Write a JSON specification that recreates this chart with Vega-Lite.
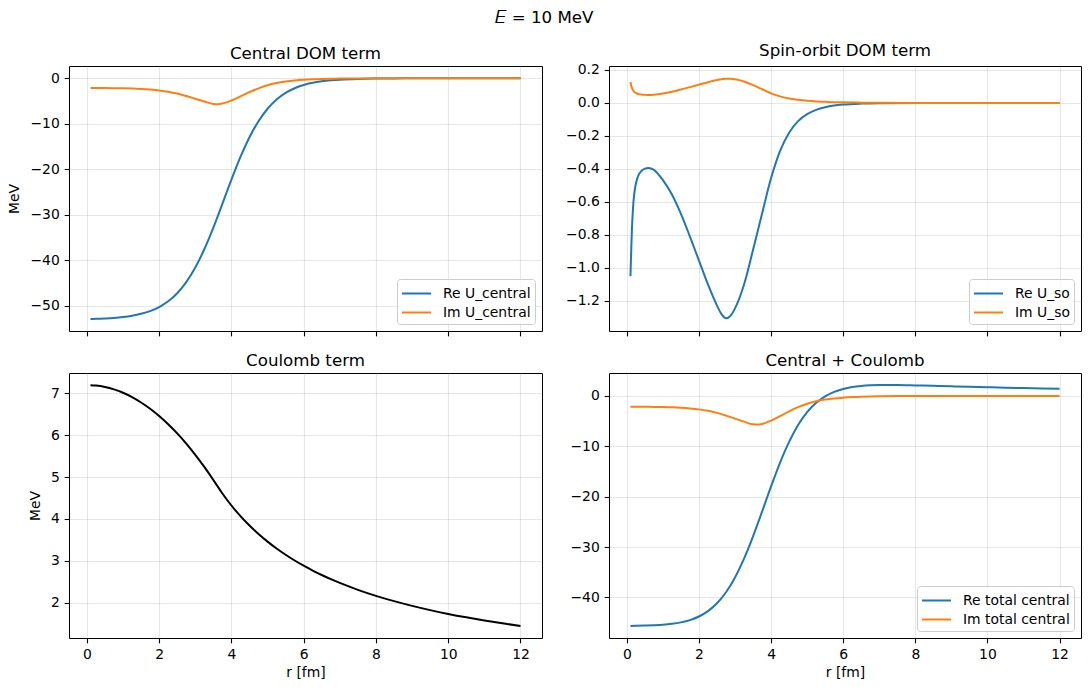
{
  "$schema": "https://vega.github.io/schema/vega-lite/v6.json",
  "padding": {"left": 7, "top": 10, "right": 8, "bottom": 8},
  "title": {"text": "𝐸 = 10 MeV", "anchor": "middle", "fontSize": 16.67, "offset": 16},
  "datasets": {
    "pot": [
      {"r": 0.1, "Re U_central": -52.86, "Im U_central": -2.13, "Coulomb": 7.198, "Re total central": -45.66, "Im total central": -2.13},
      {"r": 0.25, "Re U_central": -52.83, "Im U_central": -2.14, "Coulomb": 7.188, "Re total central": -45.64, "Im total central": -2.14},
      {"r": 0.5, "Re U_central": -52.74, "Im U_central": -2.15, "Coulomb": 7.154, "Re total central": -45.59, "Im total central": -2.15},
      {"r": 0.75, "Re U_central": -52.62, "Im U_central": -2.17, "Coulomb": 7.096, "Re total central": -45.52, "Im total central": -2.17},
      {"r": 1.0, "Re U_central": -52.43, "Im U_central": -2.2, "Coulomb": 7.015, "Re total central": -45.42, "Im total central": -2.2},
      {"r": 1.25, "Re U_central": -52.15, "Im U_central": -2.25, "Coulomb": 6.911, "Re total central": -45.24, "Im total central": -2.25},
      {"r": 1.5, "Re U_central": -51.73, "Im U_central": -2.34, "Coulomb": 6.783, "Re total central": -44.95, "Im total central": -2.34},
      {"r": 1.75, "Re U_central": -51.13, "Im U_central": -2.47, "Coulomb": 6.633, "Re total central": -44.5, "Im total central": -2.47},
      {"r": 2.0, "Re U_central": -50.24, "Im U_central": -2.66, "Coulomb": 6.459, "Re total central": -43.78, "Im total central": -2.66},
      {"r": 2.25, "Re U_central": -48.98, "Im U_central": -2.95, "Coulomb": 6.263, "Re total central": -42.72, "Im total central": -2.95},
      {"r": 2.5, "Re U_central": -47.2, "Im U_central": -3.36, "Coulomb": 6.043, "Re total central": -41.16, "Im total central": -3.36},
      {"r": 2.75, "Re U_central": -44.77, "Im U_central": -3.9, "Coulomb": 5.8, "Re total central": -38.97, "Im total central": -3.9},
      {"r": 3.0, "Re U_central": -41.56, "Im U_central": -4.5, "Coulomb": 5.533, "Re total central": -36.03, "Im total central": -4.5},
      {"r": 3.25, "Re U_central": -37.54, "Im U_central": -5.1, "Coulomb": 5.244, "Re total central": -32.3, "Im total central": -5.1},
      {"r": 3.5, "Re U_central": -32.79, "Im U_central": -5.63, "Coulomb": 4.931, "Re total central": -27.86, "Im total central": -5.63},
      {"r": 3.625, "Re U_central": -30.22, "Im U_central": -5.68, "Coulomb": 4.767, "Re total central": -25.45, "Im total central": -5.68},
      {"r": 3.75, "Re U_central": -27.57, "Im U_central": -5.55, "Coulomb": 4.608, "Re total central": -22.96, "Im total central": -5.55},
      {"r": 4.0, "Re U_central": -22.26, "Im U_central": -4.88, "Coulomb": 4.32, "Re total central": -17.94, "Im total central": -4.88},
      {"r": 4.25, "Re U_central": -17.28, "Im U_central": -3.98, "Coulomb": 4.066, "Re total central": -13.21, "Im total central": -3.98},
      {"r": 4.5, "Re U_central": -12.95, "Im U_central": -3.05, "Coulomb": 3.84, "Re total central": -9.11, "Im total central": -3.05},
      {"r": 4.75, "Re U_central": -9.42, "Im U_central": -2.22, "Coulomb": 3.638, "Re total central": -5.78, "Im total central": -2.22},
      {"r": 5.0, "Re U_central": -6.69, "Im U_central": -1.53, "Coulomb": 3.456, "Re total central": -3.23, "Im total central": -1.53},
      {"r": 5.25, "Re U_central": -4.66, "Im U_central": -1.05, "Coulomb": 3.291, "Re total central": -1.37, "Im total central": -1.05},
      {"r": 5.5, "Re U_central": -3.21, "Im U_central": -0.72, "Coulomb": 3.142, "Re total central": -0.07, "Im total central": -0.72},
      {"r": 5.75, "Re U_central": -2.19, "Im U_central": -0.49, "Coulomb": 3.005, "Re total central": 0.82, "Im total central": -0.49},
      {"r": 6.0, "Re U_central": -1.48, "Im U_central": -0.33, "Coulomb": 2.88, "Re total central": 1.4, "Im total central": -0.33},
      {"r": 6.25, "Re U_central": -1.0, "Im U_central": -0.22, "Coulomb": 2.765, "Re total central": 1.77, "Im total central": -0.22},
      {"r": 6.5, "Re U_central": -0.672, "Im U_central": -0.15, "Coulomb": 2.658, "Re total central": 1.99, "Im total central": -0.15},
      {"r": 6.75, "Re U_central": -0.451, "Im U_central": -0.1, "Coulomb": 2.56, "Re total central": 2.11, "Im total central": -0.1},
      {"r": 7.0, "Re U_central": -0.302, "Im U_central": -0.07, "Coulomb": 2.469, "Re total central": 2.17, "Im total central": -0.07},
      {"r": 7.5, "Re U_central": -0.135, "Im U_central": -0.03, "Coulomb": 2.304, "Re total central": 2.17, "Im total central": -0.03},
      {"r": 8.0, "Re U_central": -0.061, "Im U_central": -0.014, "Coulomb": 2.16, "Re total central": 2.1, "Im total central": -0.014},
      {"r": 8.5, "Re U_central": -0.027, "Im U_central": -0.006, "Coulomb": 2.033, "Re total central": 2.01, "Im total central": -0.006},
      {"r": 9.0, "Re U_central": -0.012, "Im U_central": -0.003, "Coulomb": 1.92, "Re total central": 1.91, "Im total central": -0.003},
      {"r": 9.5, "Re U_central": -0.005, "Im U_central": -0.001, "Coulomb": 1.819, "Re total central": 1.81, "Im total central": -0.001},
      {"r": 10.0, "Re U_central": -0.002, "Im U_central": 0, "Coulomb": 1.728, "Re total central": 1.73, "Im total central": 0},
      {"r": 10.5, "Re U_central": -0.001, "Im U_central": 0, "Coulomb": 1.646, "Re total central": 1.645, "Im total central": 0},
      {"r": 11.0, "Re U_central": 0, "Im U_central": 0, "Coulomb": 1.571, "Re total central": 1.57, "Im total central": 0},
      {"r": 11.5, "Re U_central": 0, "Im U_central": 0, "Coulomb": 1.503, "Re total central": 1.5, "Im total central": 0},
      {"r": 12.0, "Re U_central": 0, "Im U_central": 0, "Coulomb": 1.44, "Re total central": 1.44, "Im total central": 0}
    ],
    "so": [
      {"r": 0.1, "Re U_so": -1.05, "Im U_so": 0.127},
      {"r": 0.12, "Re U_so": -0.9, "Im U_so": 0.108},
      {"r": 0.14, "Re U_so": -0.77, "Im U_so": 0.092},
      {"r": 0.17, "Re U_so": -0.64, "Im U_so": 0.079},
      {"r": 0.2, "Re U_so": -0.56, "Im U_so": 0.069},
      {"r": 0.25, "Re U_so": -0.49, "Im U_so": 0.061},
      {"r": 0.3, "Re U_so": -0.45, "Im U_so": 0.056},
      {"r": 0.4, "Re U_so": -0.413, "Im U_so": 0.051},
      {"r": 0.5, "Re U_so": -0.398, "Im U_so": 0.049},
      {"r": 0.6, "Re U_so": -0.394, "Im U_so": 0.048},
      {"r": 0.75, "Re U_so": -0.405, "Im U_so": 0.05},
      {"r": 1.0, "Re U_so": -0.468, "Im U_so": 0.057},
      {"r": 1.25, "Re U_so": -0.555, "Im U_so": 0.068},
      {"r": 1.5, "Re U_so": -0.672, "Im U_so": 0.082},
      {"r": 1.75, "Re U_so": -0.81, "Im U_so": 0.096},
      {"r": 2.0, "Re U_so": -0.955, "Im U_so": 0.111},
      {"r": 2.25, "Re U_so": -1.1, "Im U_so": 0.126},
      {"r": 2.5, "Re U_so": -1.228, "Im U_so": 0.139},
      {"r": 2.625, "Re U_so": -1.28, "Im U_so": 0.144},
      {"r": 2.75, "Re U_so": -1.305, "Im U_so": 0.147},
      {"r": 2.875, "Re U_so": -1.29, "Im U_so": 0.147},
      {"r": 3.0, "Re U_so": -1.245, "Im U_so": 0.144},
      {"r": 3.25, "Re U_so": -1.1, "Im U_so": 0.13},
      {"r": 3.5, "Re U_so": -0.89, "Im U_so": 0.108},
      {"r": 3.75, "Re U_so": -0.67, "Im U_so": 0.083},
      {"r": 4.0, "Re U_so": -0.455, "Im U_so": 0.058},
      {"r": 4.25, "Re U_so": -0.29, "Im U_so": 0.04},
      {"r": 4.5, "Re U_so": -0.18, "Im U_so": 0.027},
      {"r": 4.75, "Re U_so": -0.11, "Im U_so": 0.019},
      {"r": 5.0, "Re U_so": -0.068, "Im U_so": 0.013},
      {"r": 5.25, "Re U_so": -0.042, "Im U_so": 0.009},
      {"r": 5.5, "Re U_so": -0.026, "Im U_so": 0.007},
      {"r": 5.75, "Re U_so": -0.016, "Im U_so": 0.005},
      {"r": 6.0, "Re U_so": -0.01, "Im U_so": 0.004},
      {"r": 6.5, "Re U_so": -0.004, "Im U_so": 0.002},
      {"r": 7.0, "Re U_so": -0.0015, "Im U_so": 0.001},
      {"r": 8.0, "Re U_so": 0, "Im U_so": 0.0003},
      {"r": 9.0, "Re U_so": 0, "Im U_so": 0},
      {"r": 10.0, "Re U_so": 0, "Im U_so": 0},
      {"r": 11.0, "Re U_so": 0, "Im U_so": 0},
      {"r": 12.0, "Re U_so": 0, "Im U_so": 0}
    ]
  },
  "columns": 2,
  "spacing": {"row": 42, "column": 67},
  "bounds": "flush",
  "resolve": {
    "scale": {"x": "independent", "y": "independent", "color": "independent"},
    "legend": {"color": "independent"}
  },
  "concat": [
    {
      "title": "Central DOM term",
      "width": 473,
      "height": 265,
      "data": {"name": "pot"},
      "transform": [{"fold": ["Re U_central", "Im U_central"], "as": ["part", "v"]}],
      "mark": {"type": "line", "strokeWidth": 2, "interpolate": "monotone"},
      "encoding": {
        "x": {"field": "r", "type": "quantitative",
              "scale": {"domain": [-0.495, 12.595], "nice": false, "zero": false},
              "axis": {"values": [0, 2, 4, 6, 8, 10, 12], "labels": false, "title": null}},
        "y": {"field": "v", "type": "quantitative",
              "scale": {"domain": [-55.5, 2.7], "nice": false, "zero": false},
              "axis": {"values": [-50, -40, -30, -20, -10, 0], "title": "MeV"}},
        "color": {"field": "part", "type": "nominal",
                  "scale": {"domain": ["Re U_central", "Im U_central"], "range": ["#1f77b4", "#ff7f0e"]},
                  "legend": {"title": null}}
      }
    },
    {
      "title": "Spin-orbit DOM term",
      "width": 472,
      "height": 265,
      "data": {"name": "so"},
      "transform": [{"fold": ["Re U_so", "Im U_so"], "as": ["part", "v"]}],
      "mark": {"type": "line", "strokeWidth": 2, "interpolate": "monotone"},
      "encoding": {
        "x": {"field": "r", "type": "quantitative",
              "scale": {"domain": [-0.495, 12.595], "nice": false, "zero": false},
              "axis": {"values": [0, 2, 4, 6, 8, 10, 12], "labels": false, "title": null}},
        "y": {"field": "v", "type": "quantitative",
              "scale": {"domain": [-1.382, 0.224], "nice": false, "zero": false},
              "axis": {"values": [-1.2, -1.0, -0.8, -0.6, -0.4, -0.2, 0, 0.2], "format": ".1f", "title": null}},
        "color": {"field": "part", "type": "nominal",
                  "scale": {"domain": ["Re U_so", "Im U_so"], "range": ["#1f77b4", "#ff7f0e"]},
                  "legend": {"title": null}}
      }
    },
    {
      "title": "Coulomb term",
      "width": 473,
      "height": 265,
      "data": {"name": "pot"},
      "mark": {"type": "line", "strokeWidth": 2, "interpolate": "monotone", "color": "black"},
      "encoding": {
        "x": {"field": "r", "type": "quantitative",
              "scale": {"domain": [-0.495, 12.595], "nice": false, "zero": false},
              "axis": {"values": [0, 2, 4, 6, 8, 10, 12], "title": "r [fm]"}},
        "y": {"field": "Coulomb", "type": "quantitative",
              "scale": {"domain": [1.152, 7.488], "nice": false, "zero": false},
              "axis": {"values": [2, 3, 4, 5, 6, 7], "title": "MeV"}}
      }
    },
    {
      "title": "Central + Coulomb",
      "width": 472,
      "height": 265,
      "data": {"name": "pot"},
      "transform": [{"fold": ["Re total central", "Im total central"], "as": ["part", "v"]}],
      "mark": {"type": "line", "strokeWidth": 2, "interpolate": "monotone"},
      "encoding": {
        "x": {"field": "r", "type": "quantitative",
              "scale": {"domain": [-0.495, 12.595], "nice": false, "zero": false},
              "axis": {"values": [0, 2, 4, 6, 8, 10, 12], "title": "r [fm]"}},
        "y": {"field": "v", "type": "quantitative",
              "scale": {"domain": [-48.05, 4.56], "nice": false, "zero": false},
              "axis": {"values": [-40, -30, -20, -10, 0], "title": null}},
        "color": {"field": "part", "type": "nominal",
                  "scale": {"domain": ["Re total central", "Im total central"], "range": ["#1f77b4", "#ff7f0e"]},
                  "legend": {"title": null}}
      }
    }
  ],
  "config": {
    "font": "DejaVu Sans",
    "background": "white",
    "view": {"stroke": "black", "strokeWidth": 1},
    "title": {"fontSize": 16.67, "fontWeight": "normal", "color": "black", "font": "DejaVu Sans", "offset": 3},
    "axis": {
      "domain": false,
      "tickColor": "black",
      "tickSize": 4.86,
      "tickWidth": 1.1,
      "labelColor": "black",
      "labelFont": "DejaVu Sans",
      "labelFontSize": 13.9,
      "labelPadding": 4.9,
      "labelFlush": false,
      "labelOverlap": false,
      "titleFont": "DejaVu Sans",
      "titleFontSize": 13.9,
      "titleFontWeight": "normal",
      "titleColor": "black",
      "gridColor": "#b0b0b0",
      "gridOpacity": 0.3,
      "gridWidth": 1.1
    },
    "axisX": {"titlePadding": 4},
    "axisY": {"titlePadding": 8},
    "legend": {
      "orient": "bottom-right",
      "offset": 7,
      "padding": 4,
      "strokeColor": "#cccccc",
      "fillColor": "rgba(255,255,255,0.8)",
      "cornerRadius": 3,
      "symbolType": "M-1,0H2.05",
      "symbolSize": 361,
      "symbolStrokeWidth": 2,
      "labelFont": "DejaVu Sans",
      "labelFontSize": 13.9,
      "labelColor": "black",
      "labelOffset": 21,
      "rowPadding": 1
    }
  }
}
